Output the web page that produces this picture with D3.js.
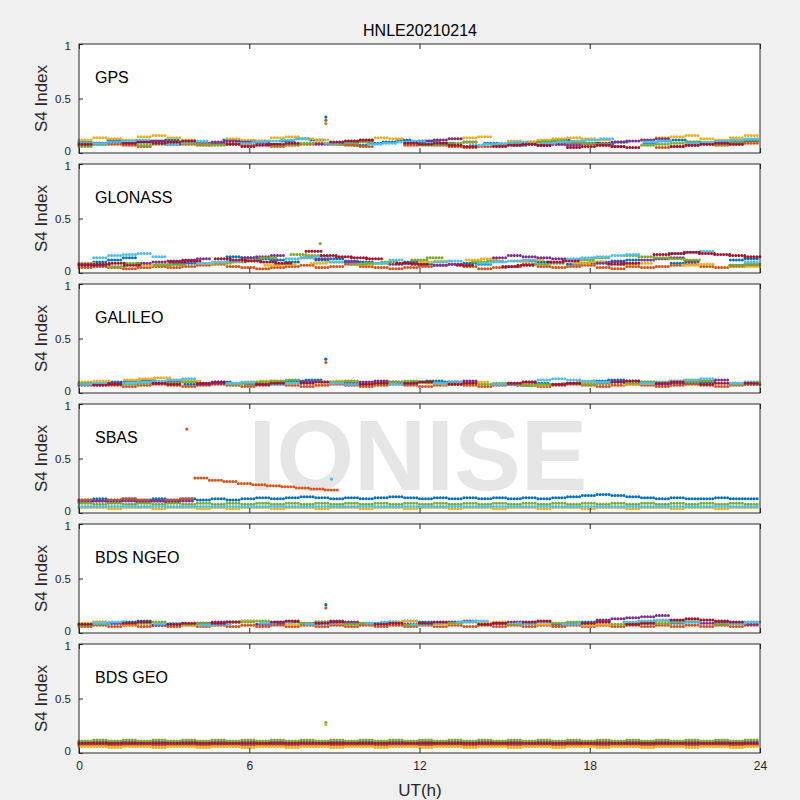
<!DOCTYPE html>
<html><head><meta charset="utf-8">
<script src="https://cdn.jsdelivr.net/npm/d3@7"></script>
<style>body{margin:0;background:#f0f0f0}</style></head>
<body><svg id="c" width="800" height="800"></svg>
<script>
// S4 values ×100, two digits per sample, "--" = no data; samples evenly spaced over 0–24 h
const panelNames = ["GPS","GLONASS","GALILEO","SBAS","BDS NGEO","BDS GEO"];
const colors = ["#0072BD","#D95319","#EDB120","#7E2F8E","#77AC30","#4DBEEE","#A2142F"];
const gps = [
 "10081209101112----0912101108111312--0807091012101109----09080710111210090810--0911121009--1011",
 "0709080706----0807080907--06070809080706----0708070605060708--070809080706----05060708070809",
 "1214131215161412----13121114151312--11121413----12131415--11101213141312----1214151613121416",
 "--0910----1108--0910111009------08091011----1011121310----0908070807--0910111213----09101112",
 "0608----07081009080708----070809--080910----0907080910--0809--1011100908----0708091009081012",
 "0909101112--081011----0910111213--0910--0809101109----07080910--0910111213----1011--0910111213",
 "08----0910091011----0806070809----101112----0908090706--06070807--0506070605----0607080908--"];
const glonass = [
 "09101214----0809----1514131210--12131110----1008----0908----1110--0809101112----0910----1213",
 "05060504050605060708060504050607050608060504050607080604050608060506070504060506070806050607",
 "0908----0708----0910----0708--0910--0809----1011--1213--1112----0910--0809----0708--0606",
 "0807----0910111213----141516--1413--10----0809--0708----1416151413----0910--12131411----0708",
 "----0609--0708----09101214--1716----080910--1214----1011----0809--1214--1615141312----0708",
 "--1416171815----091011------13141510----0912----1011--09101112----1314151617----181920----10",
 "07080907----1011--1312111009--2016151413--0908----07----0607--1011----0809--17181918171615"];
const galileo = [
 "0809101112----0809100908--101112100908----0910111009----080709----1011121110----0910--0908",
 "07080706070807060708070607080706070807060708070607080706070807060708070607080706070807060708",
 "1011--1213141211----09101109----1011--0910----09080910----0807--0910----0809101112----0910",
 "--0809----0910--0809----0809--10----0910111009----1011----0910--0809--0910----0809101112----",
 "09----0809--0910----0809101112----1011--0910111009----0809--0708----0809--0910----1011--0809",
 "0809--0910111213----0910--0809----0908----0809--0910----0809--1213121110----0910111213--0910",
 "--0708----0908--0910----0809--0910----0809--0910--0809----0910--0809----1011--0910--0809--09"];
const sbas = [
 "12131213121312131213121314131415141314131415141314131413141314131415161716151413141313141313",
 "121112131211121332302927262524232221----------------------------------------------------------",
 "05050405050405050405040505040505040505040505040505040505040505040505040505040505040505040505",
 "1011101110111011------------------------------------------------------------------------------",
 "09080908090809080908090809080908090809080908090809080908090809080908090809080908090809080908",
 "06060606060606060606060606060606060606060606060606060606060606060606060606060606060606060606",
 "----------------------------------------------------------------------------------------------"];
const bdsNgeo = [
 "0810091011----0809081011--0910----0809--0910111009----0809--0910----1011--0809--0910--0809--",
 "06070607060706070607060706070607060706070607060706070607060706070607060706070607060706070607",
 "0910--0809----0708091011----0809--0910----1011--0809--0910----0809--0708--0910111012----0910",
 "--0809----0708--0910----0809--0910111009----0809--1011--0910----0809--1213141516----0910--08",
 "0708----0910--0809----1011----0910--0809----0708--0910----0809--0910----0809--0910----0809--",
 "--0910----0809--0708----0910--0809----0910--0809--1011----0910--0809----1011121110----0910",
 "08----0910--0809--0910----1011--0910----0809--0910----0809--1011----0910--0809--1213121110--"];
const bdsGeo = [
 "08080808080808080808080808080808080808080808080808080808080808080808080808080808080808080808",
 "07070707070707070707070707070707070707070707070707070707070707070707070707070707070707070707",
 "06060506060506060506060506060506060506060506060506060506060506060506060506060506060506060506",
 "10101010101010101010101010101010101010101010101010101010101010101010101010101010101010101010",
 "11121112111211121112111211121112111211121112111211121112111211121112111211121112111211121112",
 "----------------------------------------------------------------------------------------------",
 "09090909090909090909090909090909090909090909090909090909090909090909090909090909090909090909"];
// isolated outliers: [panel, hour, value, color index]
const outliers = [[0,8.7,0.33,0],[0,8.7,0.30,1],[0,8.7,0.27,4],[1,8.5,0.27,4],[2,8.7,0.31,0],[2,8.7,0.28,1],[3,3.8,0.77,1],[3,8.9,0.31,5],[4,8.7,0.26,0],[4,8.7,0.23,1],[5,8.7,0.28,4],[5,8.7,0.26,2]];
const panelData = [gps,glonass,galileo,sbas,bdsNgeo,bdsGeo];
const xTicks = [0,6,12,18,24], yTicks = [0,0.5,1];

const svg = d3.select("#c");
const L=79,R=760,W=R-L,H=109,T0=44,gap=120;
const x = d3.scaleLinear().domain([0,24]).range([L,R]);
const F="Arial, Liberation Sans";
svg.append("text").attr("x",420).attr("y",36).attr("text-anchor","middle")
  .attr("font-family",F).attr("font-size",16).attr("fill","#000").text("HNLE20210214");
panelData.forEach((series,pi)=>{
  const top=T0+pi*gap;
  const y=d3.scaleLinear().domain([0,1]).range([top+H,top]);
  const g=svg.append("g");
  g.append("rect").attr("x",L).attr("y",top).attr("width",W).attr("height",H).attr("fill","#fff");
  if(pi===3){
    g.append("text").attr("x",418).attr("y",490).attr("text-anchor","middle")
     .attr("font-family",F).attr("font-weight","bold").attr("font-size",100)
     .attr("fill","#e6e6e6").text("IONISE");
  }
  const segs=[];
  series.forEach((s,ci)=>{
    const n=Math.floor(s.length/2);
    for(let i=0;i<n;i++){const v=s.substr(2*i,2); if(v!=="--") segs.push({t0:i*24/n,t1:(i+1)*24/n,v:+v/100,c:ci});}
  });
  g.selectAll("line.s").data(segs).join("line").attr("class","s")
   .attr("x1",d=>x(d.t0)).attr("x2",d=>x(d.t1)).attr("y1",d=>y(d.v)).attr("y2",d=>y(d.v))
   .attr("stroke",d=>colors[d.c]).attr("stroke-width",3).attr("stroke-linecap","round")
   .attr("stroke-dasharray","0 3");
  g.selectAll("circle").data(outliers.filter(o=>o[0]===pi)).join("circle")
   .attr("cx",d=>x(d[1])).attr("cy",d=>y(d[2])).attr("r",1.6).attr("fill",d=>colors[d[3]]);
  const ax=d3.axisLeft(y).tickValues(yTicks).tickFormat(d3.format("")).tickSize(-4).tickPadding(8);
  const ya=g.append("g").attr("transform",`translate(${L},0)`).call(ax);
  ya.select(".domain").remove();
  ya.selectAll("text").attr("font-family",F).attr("font-size",11.5).attr("fill","#262626")
    .attr("dy",d=>d===0?"0.15em":d===1?"0.5em":"0.32em");
  ya.selectAll("line").attr("stroke","#262626");
  const xb=g.append("g").attr("transform",`translate(0,${top+H})`).call(d3.axisBottom(x).tickValues(xTicks).tickSize(-5).tickPadding(8).tickFormat(pi===5?d3.format(""):()=>""));
  xb.select(".domain").remove(); xb.selectAll("line").attr("stroke","#262626");
  xb.selectAll("text").attr("font-family",F).attr("font-size",12).attr("fill","#262626");
  const xt=g.append("g").attr("transform",`translate(0,${top})`).call(d3.axisTop(x).tickValues(xTicks).tickSize(-5).tickFormat(()=>""));
  xt.select(".domain").remove(); xt.selectAll("line").attr("stroke","#262626");
  g.append("rect").attr("x",L).attr("y",top).attr("width",W).attr("height",H).attr("fill","none").attr("stroke","#262626").attr("stroke-width",1);
  g.append("text").attr("x",95).attr("y",top+39).attr("font-family",F).attr("font-size",16).attr("fill","#000").text(panelNames[pi]);
  g.append("text").attr("transform",`translate(47,${top+H/2}) rotate(-90)`).attr("text-anchor","middle")
   .attr("font-family",F).attr("font-size",17).attr("fill","#262626").text("S4 Index");
});
svg.append("text").attr("x",420).attr("y",796).attr("text-anchor","middle").attr("font-family",F)
  .attr("font-size",17).attr("fill","#262626").text("UT(h)");
</script></body></html>
